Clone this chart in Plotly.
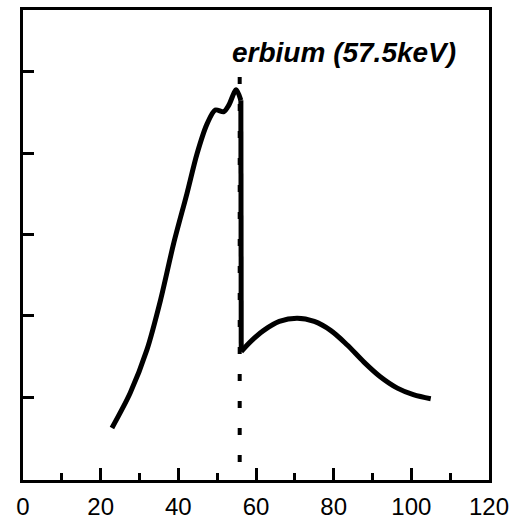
import plotly.graph_objects as go

# rising part up to the erbium K-edge (keV, relative intensity)
rise_x = [22.9, 27.6, 31.9, 35.4, 38.8, 42.2, 44.8, 47.4, 49.5, 51.7, 53.0, 54.9, 56.1]
rise_y = [0.62, 1.05, 1.58, 2.19, 2.89, 3.50, 3.99, 4.36, 4.53, 4.51, 4.59, 4.78, 4.65]

# drop at the edge
drop_x = [56.1, 56.2]
drop_y = [4.65, 1.56]

# tail after the edge
tail_x = [56.2, 59.0, 62.0, 66.0, 70.6, 75.0, 79.2, 83.5, 87.8, 92.0, 96.4, 100.5, 105.0]
tail_y = [1.56, 1.70, 1.82, 1.93, 1.97, 1.93, 1.82, 1.64, 1.43, 1.25, 1.11, 1.03, 0.98]

edge_x = 55.8
edge_label = "erbium (57.5keV)"

xticks = [0, 20, 40, 60, 80, 100, 120]
yticks = [1, 2, 3, 4, 5]

font = "Liberation Sans, Arial"

fig = go.Figure()

# dotted marker for the edge
fig.add_trace(go.Scatter(
    x=[edge_x, edge_x], y=[0.2, 5.0], mode="lines",
    line=dict(color="black", width=4, dash="7px,20px"),
    hoverinfo="skip",
))
fig.add_trace(go.Scatter(x=rise_x, y=rise_y, mode="lines",
                         line=dict(color="black", width=5, shape="spline", smoothing=0.8)))
fig.add_trace(go.Scatter(x=drop_x, y=drop_y, mode="lines",
                         line=dict(color="black", width=5)))
fig.add_trace(go.Scatter(x=tail_x, y=tail_y, mode="lines",
                         line=dict(color="black", width=5, shape="spline", smoothing=1.0)))

fig.add_annotation(x=82.6, y=5.24, text="<b><i>" + edge_label + "</i></b>",
                   showarrow=False, font=dict(family=font, size=28, color="black"))

fig.update_xaxes(
    range=[0, 120], tickvals=xticks, ticks="inside", ticklen=12, tickwidth=3,
    tickcolor="black", showline=True, linewidth=3, linecolor="black", mirror=True,
    showgrid=False, zeroline=False, automargin=False, ticklabelstandoff=3,
    minor=dict(tickvals=[10, 30, 50, 70, 90, 110], ticks="inside", ticklen=7,
               tickwidth=3, tickcolor="black"),
    tickfont=dict(family=font, size=24, color="black"),
)
fig.update_yaxes(
    range=[-0.02, 5.76], tickvals=yticks, ticks="inside", ticklen=11, tickwidth=3,
    tickcolor="black", showticklabels=False, showline=True, linewidth=3,
    linecolor="black", mirror=True, showgrid=False, zeroline=False, automargin=False,
)

fig.update_layout(
    width=511, height=521,
    margin=dict(l=23, r=22, t=10, b=41),
    plot_bgcolor="white", paper_bgcolor="white",
    showlegend=False,
)

# page body has a default margin; drop it so the figure fills the window
fig.write_html("out.html", config={"displayModeBar": False},
               post_script="document.body.style.margin='0';")
